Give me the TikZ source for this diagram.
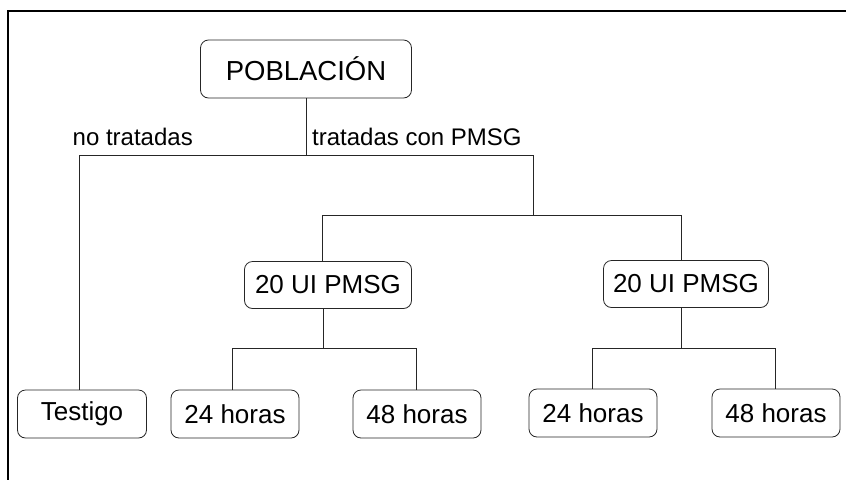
\documentclass[tikz,border=0pt]{standalone}
\usepackage{fontspec}
\setmainfont{Liberation Sans}
\usetikzlibrary{shapes,arrows}

\begin{document}
\begin{tikzpicture}[x=1pt, y=-1pt, font=\fontsize{26}{30}\selectfont]
    \tikzstyle{block} = [rectangle, draw=black!85, rounded corners=8pt, line width=0.8pt,
        inner sep=0pt, minimum width=128pt, minimum height=48pt]
    \tikzstyle{line} = [draw=black!85, line width=0.8pt]
    \tikzstyle{branch} = [font=\fontsize{24}{28}\selectfont, inner sep=0pt]

    \useasboundingbox (0,0) rectangle (846,480);
    \draw [line width=1.6pt] (846,11) -- (8,11) -- (8,480);

    \node [block, minimum width=211pt, minimum height=58pt,
        font=\fontsize{27.5}{32}\selectfont] (poblacion) at (306,69) {POBLACIÓN};
    \node [block, minimum width=167pt, minimum height=47pt] (dosisa) at (328,285) {20 UI PMSG};
    \node [block, minimum width=165pt, minimum height=47pt] (dosisb) at (686,284) {20 UI PMSG};
    \node [block, minimum width=129pt] (testigo) at (82,414) {Testigo};
    \node [block] (horasa) at (235,414) {24 horas};
    \node [block] (horasb) at (417,414) {48 horas};
    \node [block] (horasc) at (593,413) {24 horas};
    \node [block] (horasd) at (776,413) {48 horas};

    \node [branch, anchor=base east] (notratadas) at (193,145) {no tratadas};
    \node [branch, anchor=base west] (tratadas) at (312,145) {tratadas con PMSG};

    \coordinate (split) at (306,155);
    \coordinate (izq) at (79,155);
    \coordinate (der) at (533,155);
    \coordinate (fork) at (533,215);
    \coordinate (forka) at (322,215);
    \coordinate (forkb) at (681,215);
    \coordinate (suba) at (323,348);
    \coordinate (subb) at (681,348);
    \coordinate (suba1) at (232,348);
    \coordinate (suba2) at (416,348);
    \coordinate (subb1) at (592,348);
    \coordinate (subb2) at (775,348);

    \path [line] (poblacion.south) -- (split);
    \path [line] (izq) -- (der) -- (fork);
    \path [line] (izq) -- (izq |- testigo.north);
    \path [line] (forka) -- (forkb);
    \path [line] (forka) -- (forka |- dosisa.north);
    \path [line] (forkb) -- (forkb |- dosisb.north);

    \path [line] (suba |- dosisa.south) -- (suba);
    \path [line] (suba1) -- (suba2);
    \path [line] (suba1) -- (suba1 |- horasa.north);
    \path [line] (suba2) -- (suba2 |- horasb.north);

    \path [line] (subb |- dosisb.south) -- (subb);
    \path [line] (subb1) -- (subb2);
    \path [line] (subb1) -- (subb1 |- horasc.north);
    \path [line] (subb2) -- (subb2 |- horasd.north);
\end{tikzpicture}
\end{document}
